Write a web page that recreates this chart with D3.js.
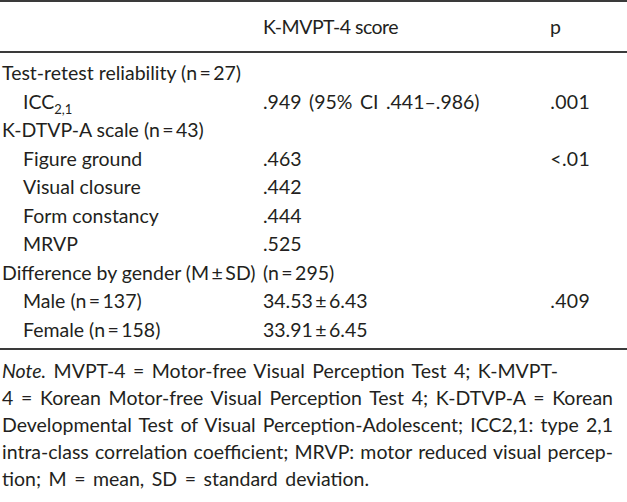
<!DOCTYPE html>
<html><head><meta charset="utf-8">
<script src="https://cdn.jsdelivr.net/npm/d3@7"></script>
<style>body{margin:0;background:#fff}svg{display:block}</style>
</head><body><svg id="c" width="627" height="502"></svg>
<script>
const headers = ["", "K-MVPT-4 score", "p"];
const rowLabels = ["Test-retest reliability (n\u2009=\u200927)", "ICC", "K-DTVP-A scale (n\u2009=\u200943)", "Figure ground", "Visual closure", "Form constancy", "MRVP", "Difference by gender (M\u2009\u00b1\u2009SD)", "Male (n\u2009=\u2009137)", "Female (n\u2009=\u2009158)"];
const rowIndent = [0,1,0,1,1,1,1,0,1,1];
const scores = ["", ".949 (95% CI .441\u2013.986)", "", ".463", ".442", ".444", ".525", "(n\u2009=\u2009295)", "34.53\u2009\u00b1\u20096.43", "33.91\u2009\u00b1\u20096.45"];
const pValues = ["", ".001", "", "<.01", "", "", "", "", ".409", ""];
const noteLines = [
 [["Note.", true], [" MVPT-4 = Motor-free Visual Perception Test 4; K-MVPT-", false]],
 [["4 = Korean Motor-free Visual Perception Test 4; K-DTVP-A = Korean", false]],
 [["Developmental Test of Visual Perception-Adolescent; ICC2,1: type 2,1", false]],
 [["intra-class correlation coefficient; MRVP: motor reduced visual percep-", false]],
 [["tion; M = mean, SD = standard deviation.", false]]
];
const noteJustify = [false, true, true, true, false];
const svg = d3.select("#c");
const font = "Lato, 'Open Sans', sans-serif";
const fs = 19.5;
const W = 627;
const y = d3.scaleLinear().domain([0, rowLabels.length-1]).range([80, 337]);
const colX = [2, 263, 590];
const ink = "#231f20", rule = "#3a3a3a";
[0, 51, 348].forEach(ry => svg.append("rect").attr("x",0).attr("y",ry).attr("width",W).attr("height",2).attr("fill",rule));
const g = svg.append("g").attr("font-family", font).attr("font-size", fs).attr("fill", ink);
g.append("text").attr("x", colX[1]).attr("y", 34).attr("letter-spacing", -0.5).text(headers[1]);
g.append("text").attr("x", 550).attr("y", 34).text(headers[2]);
rowLabels.forEach((lab,i)=>{
  const t = g.append("text").attr("x", colX[0] + rowIndent[i]*21).attr("y", y(i));
  if (lab === "ICC") {
    t.text("ICC");
    t.append("tspan").attr("font-size", 13).attr("dy", 5).text("2,1");
  } else t.text(lab);
});
scores.forEach((s,i)=>{ if(s) g.append("text").attr("x", colX[1]).attr("y", y(i))
  .attr("word-spacing", 2.5).text(s); });
pValues.forEach((s,i)=>{ if(s) g.append("text").attr("x", colX[2]).attr("y", y(i)).attr("text-anchor","end")
  .attr("letter-spacing", 0.3).text(s); });
const ny = d3.scaleLinear().domain([0, noteLines.length-1]).range([378, 486]);
const noteRight = 613;
noteLines.forEach((parts,i)=>{
  const t = g.append("text").attr("x", 2).attr("y", ny(i)).attr("font-size", 19.5).attr("word-spacing", 2.5);
  parts.forEach(([s,it])=> t.append("tspan").attr("font-style", it?"italic":"normal").text(s));
  if (noteJustify[i]) {
    const full = parts.map(p=>p[0]).join("");
    const nsp = (full.match(/ /g)||[]).length;
    t.attr("word-spacing", 0);
    const w = t.node().getComputedTextLength();
    t.attr("word-spacing", (noteRight - 2 - w) / nsp);
  }
});
</script></body></html>
